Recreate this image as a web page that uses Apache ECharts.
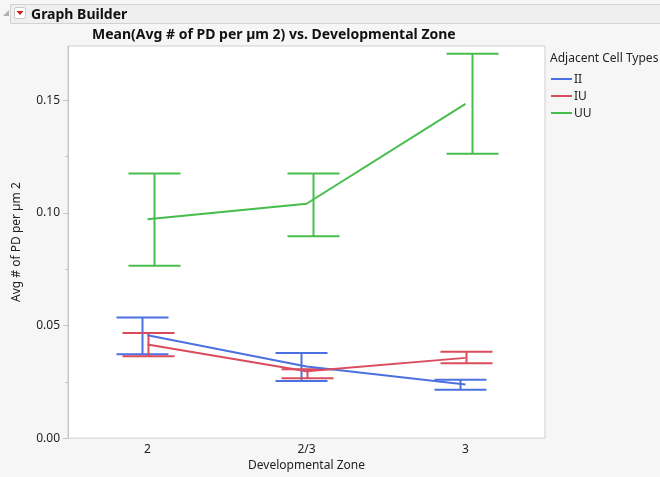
<!DOCTYPE html>
<html><head><meta charset="utf-8">
<script src="https://cdn.jsdelivr.net/npm/echarts@6/dist/echarts.min.js"></script>
<style>html,body{margin:0;padding:0;background:#f6f6f6;}#c{width:660px;height:477px;}</style>
</head><body><div id="c"></div>
<script>
var categories = ['2', '2/3', '3'];
var seriesNames = ['II', 'IU', 'UU'];
var II_mean = [0.0456, 0.0318, 0.0238];
var II_low  = [0.0372, 0.0253, 0.0215];
var II_high = [0.0535, 0.0378, 0.0259];
var IU_mean = [0.0415, 0.0297, 0.0356];
var IU_low  = [0.0363, 0.0266, 0.0332];
var IU_high = [0.0466, 0.0306, 0.0383];
var UU_mean = [0.0971, 0.1040, 0.1483];
var UU_low  = [0.0765, 0.0896, 0.1262];
var UU_high = [0.1174, 0.1174, 0.1706];
var yLabelTicks = [0, 0.05, 0.10, 0.15];
var yMinorTicks = [0.025, 0.075, 0.125];

var colors = ['#4B70E0', '#DA4C5C', '#46BD4C'];
var offsets = [-5, 1, 7];
var means = [II_mean, IU_mean, UU_mean];
var lows = [II_low, IU_low, UU_low];
var highs = [II_high, IU_high, UU_high];
var FONT = 'Noto Sans';

var chart = echarts.init(document.getElementById('c'), null, {renderer: 'canvas'});
var series = [];
seriesNames.forEach(function (n, s) {
  series.push({
    name: n, type: 'line', data: means[s], symbol: 'none',
    lineStyle: {color: colors[s], width: 2}, itemStyle: {color: colors[s]}, z: 3
  });
});
seriesNames.forEach(function (n, s) {
  var d = categories.map(function (c, i) { return [i, lows[s][i], highs[s][i]]; });
  series.push({
    type: 'custom', data: d, z: 2, silent: true,
    renderItem: function (params, api) {
      var lo = api.coord([api.value(0), api.value(1)]);
      var hi = api.coord([api.value(0), api.value(2)]);
      var x = lo[0] + offsets[s];
      var hw = 26;
      var st = {stroke: colors[s], lineWidth: 2};
      return {type: 'group', children: [
        {type: 'line', shape: {x1: x, y1: lo[1], x2: x, y2: hi[1]}, style: st},
        {type: 'line', shape: {x1: x - hw, y1: lo[1], x2: x + hw, y2: lo[1]}, style: st},
        {type: 'line', shape: {x1: x - hw, y1: hi[1], x2: x + hw, y2: hi[1]}, style: st}
      ]};
    }
  });
});

var graphics = [
  {type: 'rect', shape: {x: 10.5, y: 4.5, width: 660, height: 19}, style: {fill: '#efefef', stroke: '#d2d2d2', lineWidth: 1}},
  {type: 'polygon', shape: {points: [[3, 16], [9, 16], [9, 10]]}, style: {fill: '#b0b0b0'}},
  {type: 'rect', shape: {x: 14.5, y: 7.5, width: 11, height: 11, r: 2}, style: {fill: '#ffffff', stroke: '#c8c8c8', lineWidth: 1}},
  {type: 'polygon', shape: {points: [[16.5, 11], [23.5, 11], [20, 15]]}, style: {fill: '#d01c1c'}},
  {type: 'text', left: 31, top: 8, style: {text: 'Graph Builder', font: 'bold 14px ' + FONT, fill: '#111'}},
  {type: 'text', left: 92, top: 28, style: {text: 'Mean(Avg # of PD per µm 2) vs. Developmental Zone', font: 'bold 14px ' + FONT, fill: '#111'}},
  {type: 'text', left: 550, top: 53, style: {text: 'Adjacent Cell Types', font: '12px ' + FONT, fill: '#222'}}
];
seriesNames.forEach(function (n, s) {
  var y = 79 + s * 17;
  graphics.push({type: 'line', shape: {x1: 551, y1: y, x2: 572, y2: y}, style: {stroke: colors[s], lineWidth: 2}});
  graphics.push({type: 'text', x: 574, y: y + 1, style: {text: n, font: '12px ' + FONT, fill: '#222', verticalAlign: 'middle'}});
});

chart.setOption({
  backgroundColor: '#f6f6f6',
  animation: false,
  textStyle: {fontFamily: FONT},
  grid: {left: 68, right: 115, top: 46, bottom: 37, show: true, backgroundColor: '#ffffff', borderColor: '#cfcfcf', borderWidth: 1},
  xAxis: {
    type: 'category', data: categories, boundaryGap: true,
    axisLine: {show: false}, axisTick: {show: false},
    axisLabel: {color: '#222', fontSize: 12, margin: 5, fontFamily: FONT},
    name: 'Developmental Zone', nameLocation: 'middle', nameGap: 21,
    nameTextStyle: {color: '#222', fontSize: 12, fontFamily: FONT},
    splitLine: {show: false}
  },
  yAxis: [{
    type: 'value', min: 0, max: 0.174, interval: 0.05,
    axisLine: {show: true, lineStyle: {color: '#c4c4c4', width: 1}},
    axisTick: {show: true, length: 5, lineStyle: {color: '#c4c4c4'}, customValues: yLabelTicks},
    axisLabel: {color: '#222', fontSize: 12, margin: 8, fontFamily: FONT, customValues: yLabelTicks,
      padding: [5, 0, 0, 0],
      formatter: function (v) { return v.toFixed(2); }},
    splitLine: {show: false},
    name: 'Avg # of PD per µm 2', nameLocation: 'middle', nameGap: 45,
    nameTextStyle: {color: '#222', fontSize: 12, fontFamily: FONT}
  }, {
    type: 'value', min: 0, max: 0.174, position: 'left',
    axisLine: {show: false},
    axisTick: {show: true, length: 3, lineStyle: {color: '#c4c4c4'}, customValues: yMinorTicks},
    axisLabel: {show: false}, splitLine: {show: false}
  }],
  graphic: graphics,
  series: series
});
</script></body></html>
